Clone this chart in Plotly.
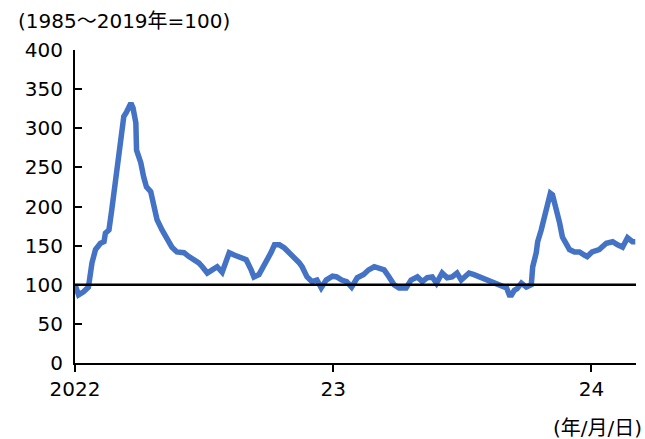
import plotly.graph_objects as go

dates = [
    "2022-01-01", "2022-01-06", "2022-01-13", "2022-01-20", "2022-01-25", "2022-01-30",
    "2022-02-06", "2022-02-11", "2022-02-13", "2022-02-18", "2022-02-22", "2022-02-28",
    "2022-03-04", "2022-03-08", "2022-03-11", "2022-03-15", "2022-03-21", "2022-03-24",
    "2022-03-28", "2022-03-29", "2022-04-04", "2022-04-08", "2022-04-12", "2022-04-18",
    "2022-04-22", "2022-04-27", "2022-05-04", "2022-05-11", "2022-05-18", "2022-05-25",
    "2022-06-04", "2022-06-11", "2022-06-18", "2022-06-25", "2022-06-30", "2022-07-07",
    "2022-07-14", "2022-07-21", "2022-07-28", "2022-08-03", "2022-08-07", "2022-08-14",
    "2022-08-21", "2022-08-31", "2022-09-07", "2022-09-11", "2022-09-18", "2022-09-28",
    "2022-10-05", "2022-10-10", "2022-10-17", "2022-10-24", "2022-10-31", "2022-11-07",
    "2022-11-14", "2022-11-18", "2022-11-25", "2022-12-02", "2022-12-09", "2022-12-15",
    "2022-12-22", "2022-12-31",
    "2023-01-06", "2023-01-13", "2023-01-20", "2023-01-27", "2023-02-04", "2023-02-13",
    "2023-02-20", "2023-02-28", "2023-03-07", "2023-03-14", "2023-03-21", "2023-03-28",
    "2023-04-04", "2023-04-14", "2023-04-21", "2023-04-30", "2023-05-07", "2023-05-14",
    "2023-05-21", "2023-05-27", "2023-06-04", "2023-06-11", "2023-06-18", "2023-06-25",
    "2023-07-01", "2023-07-12", "2023-07-19", "2023-07-29", "2023-08-07", "2023-08-17",
    "2023-08-24", "2023-08-27", "2023-09-03", "2023-09-07", "2023-09-10", "2023-09-14",
    "2023-09-18", "2023-09-24", "2023-10-01", "2023-10-08", "2023-10-10", "2023-10-15",
    "2023-10-17", "2023-10-22", "2023-10-26", "2023-10-31", "2023-11-04", "2023-11-07",
    "2023-11-12", "2023-11-17", "2023-11-21", "2023-11-26", "2023-12-01", "2023-12-08",
    "2023-12-15", "2023-12-22", "2023-12-26",
    "2024-01-02", "2024-01-12", "2024-01-22", "2024-01-31", "2024-02-07", "2024-02-14",
    "2024-02-21", "2024-02-28", "2024-03-03",
]

index_values = [
    100, 87, 91, 97, 128, 145,
    153, 155, 166, 170, 196, 234,
    263, 294, 315, 321, 332, 326,
    307, 272, 256, 238, 225, 219,
    200, 183, 170, 157, 148, 142,
    141, 136, 132, 128, 123, 115,
    119, 123, 116, 132, 141, 138,
    136, 132, 119, 110, 113, 128,
    141, 151, 151, 147, 141, 134,
    128, 123, 110, 104, 106, 96,
    106, 111,
    110, 106, 104, 97, 109, 113,
    119, 123, 121, 119, 110, 100,
    96, 96, 106, 110, 104, 109,
    110, 102, 115, 109, 110, 115,
    106, 115, 113, 109, 106, 102,
    100, 97, 96, 87, 87, 93,
    95, 102, 97, 100, 123, 141,
    155, 170, 187, 205, 217, 215,
    200, 179, 161, 153, 145, 142,
    142, 138, 136,
    142, 145, 153, 155, 151, 148,
    160, 155, 155,
]

baseline = 100
tick_dates = ["2022-01-01", "2023-01-01", "2024-01-01"]
tick_labels = ["2022", "23", "24"]
y_ticks = [0, 50, 100, 150, 200, 250, 300, 350, 400]

FONT = "Verdana, DejaVu Sans, Noto Sans CJK JP, sans-serif"

fig = go.Figure()
fig.add_trace(go.Scatter(
    x=dates, y=index_values, mode="lines",
    line=dict(color="#4472C4", width=5.5),
    hoverinfo="skip", showlegend=False,
))

fig.add_shape(type="line", xref="paper", yref="y", x0=0, x1=1,
              y0=baseline, y1=baseline, line=dict(color="black", width=2.5))

fig.update_layout(
    width=645, height=439,
    margin=dict(l=75, r=9, t=50, b=76),
    paper_bgcolor="white", plot_bgcolor="white",
    font=dict(family=FONT, size=20, color="black"),
    xaxis=dict(
        type="date", range=["2022-01-01", "2024-03-04"],
        tickvals=tick_dates, ticktext=tick_labels,
        showgrid=False, zeroline=False,
        showline=True, linecolor="black", linewidth=2,
        ticks="outside", ticklen=7, tickwidth=2, tickcolor="black",
        tickfont=dict(size=20),
    ),
    yaxis=dict(
        range=[0, 400], tickvals=y_ticks,
        showgrid=False, zeroline=False,
        showline=True, linecolor="black", linewidth=2,
        ticks="inside", ticklen=7, tickwidth=2, tickcolor="black",
        tickfont=dict(size=20), ticklabelstandoff=6,
    ),
    annotations=[
        dict(text="(1985～2019年=100)", xref="paper", yref="paper",
             x=(16 - 75) / 561, y=1 + (50 - 21) / 313, xanchor="left", yanchor="middle",
             showarrow=False, font=dict(size=20)),
        dict(text="(年/月/日)", xref="paper", yref="paper",
             x=(644 - 75) / 561, y=-(428 - 363) / 313, xanchor="right", yanchor="middle",
             showarrow=False, font=dict(size=20)),
    ],
)

fig.write_html("out.html", config={"displayModeBar": False},
               post_script="document.body.style.margin='0';document.body.style.overflow='hidden';")
